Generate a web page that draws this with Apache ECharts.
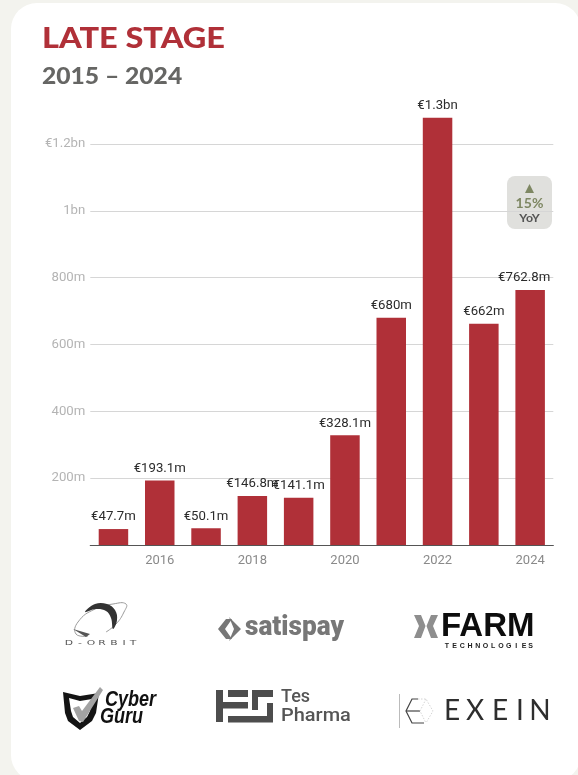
<!DOCTYPE html>
<html>
<head>
<meta charset="utf-8">
<title>Late stage 2015 – 2024</title>
<style>
  html, body { margin: 0; padding: 0; width: 578px; height: 775px; overflow: hidden; background: #f3f3ee; }
  #card { position: absolute; left: 11px; top: 3px; width: 570px; height: 778px; border-radius: 26px; background: #fff; }
  #chart { position: absolute; left: 0; top: 0; width: 578px; height: 775px; }
</style>
<script src="https://cdn.jsdelivr.net/npm/echarts@6/dist/echarts.min.js"></script>
</head>
<body>
<div id="card"></div>
<div id="chart"></div>
<script>
// Yearly late-stage funding, in millions of euros
const years = ['2015', '2016', '2017', '2018', '2019', '2020', '2021', '2022', '2023', '2024'];
const funding = [47.7, 193.1, 50.1, 146.8, 141.1, 328.1, 680, 1278, 662, 762.8];
const yTicks = { 0: '', 200: '200m', 400: '400m', 600: '600m', 800: '800m', 1000: '1bn', 1200: '€1.2bn' };
const titleText = 'LATE STAGE';
const periodText = '2015 – 2024';
const yoyChange = '15%';

const RED = '#b03038';
const UI = 'Roboto, sans-serif';

function euroLabel(v) {
  return v >= 1000 ? '€' + (v / 1000).toFixed(1) + 'bn' : '€' + v + 'm';
}

// Small drawing helpers for the headline, the badge and the company wordmarks
function text(str, x, y, font, fill, opts) {
  const o = opts || {};
  return {
    type: 'text', x: x, y: y, scaleX: o.scaleX || 1, scaleY: o.scaleY || 1, silent: true,
    style: { text: str, font: font, fill: fill, textAlign: o.align || 'left', textVerticalAlign: 'middle' }
  };
}
function letters(str, xs, y, font, fill, opts) {
  return str.split('').map((c, i) => text(c, xs[i], y, font, fill, Object.assign({ align: 'center' }, opts)));
}
function poly(points, fill, smooth) {
  return { type: 'polygon', silent: true, shape: { points: points, smooth: smooth || 0 }, style: { fill: fill } };
}
function stroke(points, color, width, smooth, dash) {
  return {
    type: 'polyline', silent: true, shape: { points: points, smooth: smooth || 0 },
    style: { fill: 'none', stroke: color, lineWidth: width, lineDash: dash || null }
  };
}
function rect(x, y, w, h, fill, r) {
  return { type: 'rect', silent: true, shape: { x: x, y: y, width: w, height: h, r: r || 0 }, style: { fill: fill } };
}

const heading = [
  text(titleText, 42, 39, '900 29px Lato, sans-serif', RED, { scaleX: 1.12 }),
  text(periodText, 42, 77, '900 23px Lato, sans-serif', '#666664', { scaleX: 1.07 })
];

const badge = [
  rect(507, 176, 45, 53, '#e0e0dd', 8),
  poly([[529.5, 184], [534, 193], [525, 193]], '#7e8763'),
  text(yoyChange, 529.5, 203.5, '700 13px Lato, sans-serif', '#7e8763', { align: 'center', scaleX: 1.08 }),
  text('YoY', 529.5, 218, '700 11px Lato, sans-serif', '#555', { align: 'center', scaleX: 1.12 })
];

const dOrbit = [
  stroke([[88, 636], [76, 634], [78, 622], [95, 609], [113, 604], [126, 604], [124, 612], [116, 624], [106, 632]], '#9a9a9a', 1, 0.5),
  poly([[85, 612], [95, 604], [107, 604], [115, 610], [117, 620], [113, 629], [111, 618], [106, 611], [96, 609]], '#333', 0.4),
  poly([[73, 629], [90, 634], [86, 637]], '#555'),
  ...letters('D-ORBIT', [69, 80, 91, 102, 114, 124, 133], 643, '400 8px "DejaVu Sans", sans-serif', '#555', { scaleX: 1.35, scaleY: 0.8 })
];

const satispay = [
  poly([[218, 629], [226, 619], [232, 619], [225, 629], [232, 639], [226, 639]], '#777'),
  poly([[229, 617], [241, 629], [229, 641], [234, 629]], '#777'),
  text('satispay', 245, 628, '900 27px Roboto, sans-serif', '#777', { scaleX: 0.97 })
];

const xFarm = [
  poly([[414, 615], [421, 615], [425.5, 626], [421, 638], [414, 638], [419, 626]], '#8e8e8e'),
  poly([[438, 615], [431, 615], [426.5, 626], [431, 638], [438, 638], [433, 626]], '#8e8e8e'),
  text('FARM', 441, 627, '700 33px "Liberation Sans", sans-serif', '#0d0d0d'),
  ...letters('TECHNOLOGIES', [447, 454.7, 462.4, 470.1, 477.8, 485.5, 493.2, 500.9, 508.6, 516.3, 524, 530.5], 646, '700 7px "Liberation Sans", sans-serif', '#222')
];

const cyberGuru = [
  poly([[63, 692], [80, 696], [99, 693], [96, 713], [92, 721], [80, 730], [68, 721], [65, 713]], '#141414'),
  poly([[69, 698], [80, 701], [92, 699], [90, 711], [87, 717], [80, 723], [73, 717], [71, 711]], '#fff'),
  poly([[73, 708], [79, 706], [82, 711], [100, 687], [103, 690], [83, 722], [79, 721]], '#a3a3a3'),
  text('Cyber', 105, 700, 'italic 700 22px "Liberation Sans", sans-serif', '#111', { scaleX: 0.82 }),
  text('Guru', 100, 716.5, 'italic 700 22px "Liberation Sans", sans-serif', '#111', { scaleX: 0.82 })
];

const tesPharma = [
  rect(216, 690, 7, 32, '#4d4d4d'),
  rect(228, 690, 20, 7, '#4d4d4d'),
  rect(223, 702, 25, 6.5, '#4d4d4d'),
  rect(228, 716, 45, 6.5, '#4d4d4d'),
  rect(252, 690, 21, 7, '#4d4d4d'),
  rect(267, 703, 6, 19, '#4d4d4d'),
  rect(252, 690, 6, 20, '#4d4d4d'),
  text('Tes', 281, 697, '500 18px Roboto, sans-serif', '#555'),
  text('Pharma', 281, 716.5, '500 18px Roboto, sans-serif', '#555', { scaleX: 1.11 })
];

const exein = [
  rect(399, 694, 1, 34, '#bbb'),
  stroke([[418, 699], [412, 699], [406, 711], [412, 723], [424, 723]], '#444', 1.2),
  stroke([[406, 711], [420, 711]], '#444', 1.2),
  stroke([[418, 699], [426, 699], [433, 711], [426, 723]], '#d4d4d4', 1, 0, [1.5, 1.5]),
  stroke([[426, 699], [420, 711], [426, 723]], '#d4d4d4', 1, 0, [1.5, 1.5]),
  ...letters('EXEIN', [452, 475, 500, 520, 540], 711, '400 28px Lato, sans-serif', '#2e2e2e')
];

const chart = echarts.init(document.getElementById('chart'), null, { renderer: 'canvas' });
chart.setOption({
  animation: false,
  backgroundColor: 'transparent',
  textStyle: { fontFamily: UI },
  grid: { left: 90.3, right: 24.7, top: 77.1, bottom: 230, containLabel: false },
  xAxis: {
    type: 'category',
    data: years,
    axisLine: { lineStyle: { color: '#555', width: 1.2 } },
    axisTick: { show: false },
    axisLabel: {
      color: '#8a8a8a', fontSize: 13, margin: 9, fontFamily: UI,
      interval: (i) => i % 2 === 1
    }
  },
  yAxis: {
    type: 'value',
    min: 0, max: 1400, interval: 200,
    axisLine: { show: false },
    axisTick: { show: false },
    axisLabel: {
      color: '#b4b4b4', fontSize: 13.2, margin: 5, fontFamily: UI, showMaxLabel: false,
      formatter: (v) => yTicks[v] || ''
    },
    splitLine: { showMaxLine: false, lineStyle: { color: '#d6d6d6', width: 1 } }
  },
  series: [{
    type: 'bar',
    data: funding,
    barWidth: 29.5,
    itemStyle: { color: RED },
    label: {
      show: true, position: 'top', distance: 5.5,
      color: '#2b2b2b', fontSize: 13.2, fontFamily: UI,
      formatter: (p) => euroLabel(p.value)
    },
    // The last label is nudged left so it stays inside the card's plot width
    labelLayout: (p) => ({ hideOverlap: false, dx: p.dataIndex === funding.length - 1 ? -6 : 0 })
  }],
  graphic: { elements: [...heading, ...badge, ...dOrbit, ...satispay, ...xFarm, ...cyberGuru, ...tesPharma, ...exein] }
});
</script>
</body>
</html>
